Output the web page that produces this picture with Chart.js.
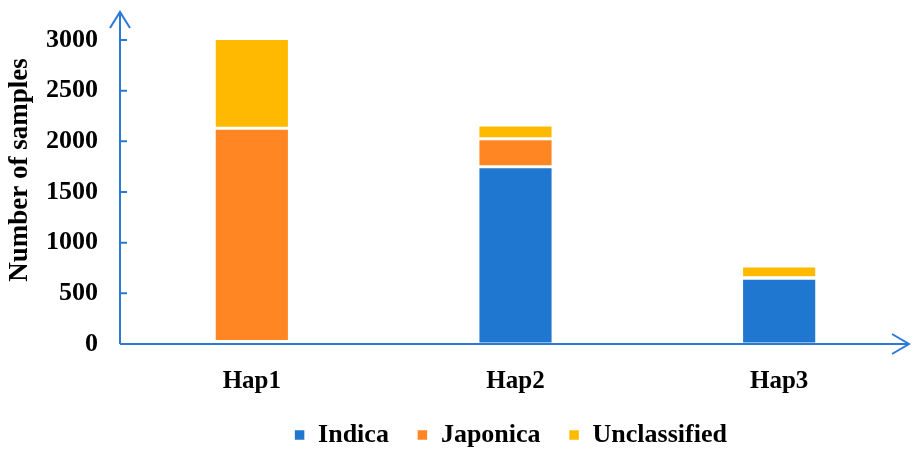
<!DOCTYPE html>
<html>
<head>
<meta charset="utf-8">
<script src="https://cdn.jsdelivr.net/npm/chart.js@4.4.1/dist/chart.umd.min.js"></script>
<style>
  html, body { margin: 0; padding: 0; background: #fff; }
  #wrap { width: 920px; height: 458px; }
</style>
</head>
<body>
<div id="wrap"><canvas id="samplesChart"></canvas></div>
<script>
const categories = ['Hap1', 'Hap2', 'Hap3'];
const indica = [25, 1750, 650];
const japonica = [2105, 275, 5];
const unclassified = [890, 135, 115];
const yTicks = [0, 500, 1000, 1500, 2000, 2500, 3000];
const yTitle = 'Number of samples';

const axisBlue = '#2B78D6';
const FONT = "'Liberation Serif', 'Times New Roman', serif";

// axes with arrow heads and inward tick marks, like the original figure
const arrowAxes = {
  id: 'arrowAxes',
  afterLayout(chart) {
    // legend in the figure sits centred under the plot, not the page
    chart.legend.left += 55;
    chart.legend.right += 55;
  },
  afterDraw(chart) {
    const {ctx, chartArea} = chart;
    const y = chart.scales.y;
    const left = chartArea.left, bottom = chartArea.bottom;
    ctx.save();
    ctx.strokeStyle = axisBlue;
    ctx.lineWidth = 2;
    ctx.beginPath();
    ctx.moveTo(left, bottom);
    ctx.lineTo(left, 12);
    ctx.moveTo(left, bottom);
    ctx.lineTo(909, bottom);
    // arrow heads
    ctx.moveTo(left - 10, 28);
    ctx.lineTo(left, 12);
    ctx.lineTo(left + 10, 28);
    ctx.moveTo(892, bottom - 10);
    ctx.lineTo(909, bottom);
    ctx.lineTo(892, bottom + 10);
    // tick marks
    yTicks.slice(1).forEach(v => {
      const py = y.getPixelForValue(v);
      ctx.moveTo(left, py);
      ctx.lineTo(left + 7, py);
    });
    ctx.stroke();

    // y title, a bit above the middle as in the figure
    ctx.translate(27, 170);
    ctx.rotate(-Math.PI / 2);
    ctx.fillStyle = '#000';
    ctx.font = 'bold 27px ' + FONT;
    ctx.textAlign = 'center';
    ctx.textBaseline = 'alphabetic';
    ctx.fillText(yTitle, 0, 0);
    ctx.restore();
  }
};

new Chart(document.getElementById('samplesChart'), {
  type: 'bar',
  data: {
    labels: categories,
    datasets: [
      { label: 'Indica', data: indica, backgroundColor: '#1F77D0' },
      { label: 'Japonica', data: japonica, backgroundColor: '#FF8623' },
      { label: 'Unclassified', data: unclassified, backgroundColor: '#FFBA00' }
    ].map(d => Object.assign(d, {
      borderColor: '#ffffff',
      borderWidth: 1.5,
      borderSkipped: false,
      categoryPercentage: 1,
      barPercentage: 0.285
    }))
  },
  options: {
    responsive: true,
    maintainAspectRatio: false,
    animation: false,
    layout: { padding: { top: 40, right: 9, left: 0, bottom: 0 } },
    plugins: {
      legend: {
        position: 'bottom',
        labels: {
          boxWidth: 11,
          boxHeight: 11,
          padding: 28,
          color: '#000',
          font: { family: FONT, size: 26, weight: 'bold' }
        }
      },
      tooltip: { enabled: false }
    },
    scales: {
      x: {
        stacked: true,
        grid: { display: false, drawTicks: false },
        border: { display: false },
        ticks: {
          padding: 23,
          color: '#000',
          font: { family: FONT, size: 25, weight: 'bold' }
        },
        afterFit(s) { s.height = 50; }
      },
      y: {
        stacked: true,
        min: 0,
        max: 3000,
        grid: { display: false, drawTicks: false },
        border: { display: false },
        afterBuildTicks(s) { s.ticks = yTicks.map(v => ({ value: v })); },
        ticks: {
          padding: 22,
          color: '#000',
          font: { family: FONT, size: 26, weight: 'bold' },
          callback: v => String(v)
        },
        afterFit(s) { s.width = 120; }
      }
    }
  },
  plugins: [arrowAxes]
});
</script>
</body>
</html>
